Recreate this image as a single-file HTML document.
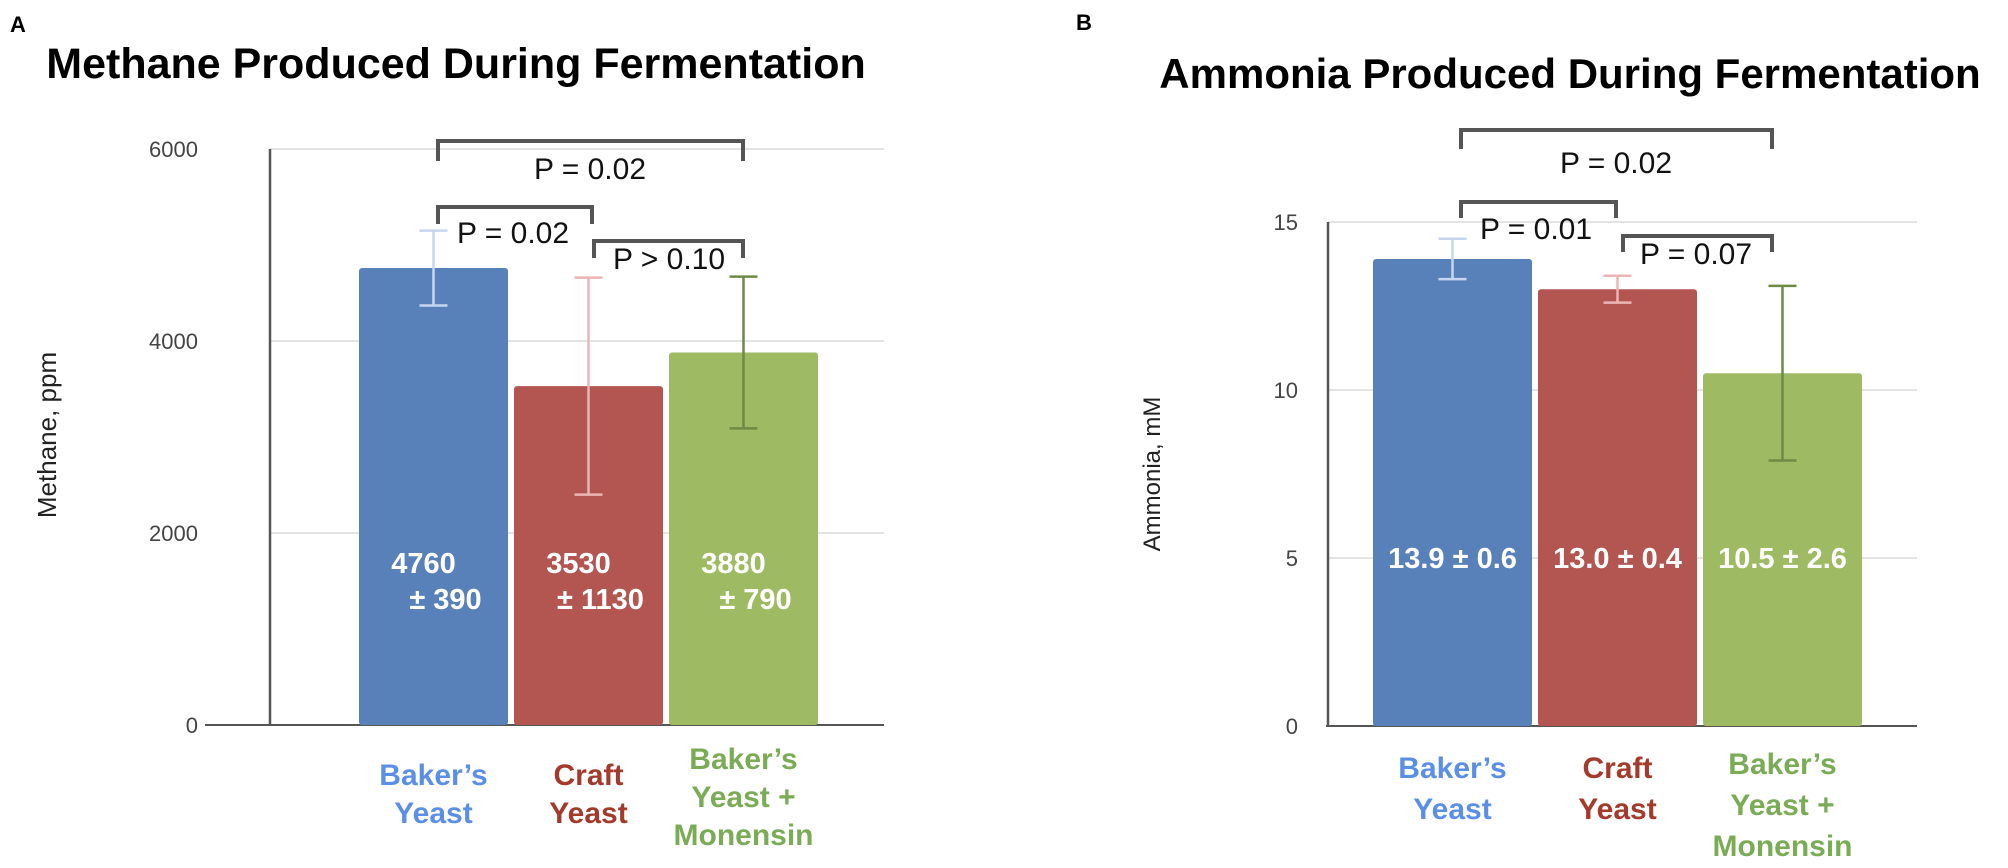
<!DOCTYPE html>
<html><head><meta charset="utf-8"><style>
html,body{margin:0;padding:0;background:#fff;}
svg{display:block;font-family:"Liberation Sans",Arial,sans-serif;}
</style></head><body>
<svg id="fig" width="2008" height="868" viewBox="0 0 2008 868">
<text x="10" y="32" font-size="22" font-weight="bold">A</text>
<text x="1076" y="30" font-size="22" font-weight="bold">B</text>
<text x="456" y="78" font-size="43" font-weight="bold" text-anchor="middle">Methane Produced During Fermentation</text>
<text x="1570" y="88" font-size="42" font-weight="bold" text-anchor="middle">Ammonia Produced During Fermentation</text>
<g id="chartA"></g>
<g id="chartB"></g>
</svg>
<script>
const catNames=["Baker's Yeast","Craft Yeast","Baker's Yeast + Monensin"];
const methaneVals=[4760,3530,3880];
const methaneErr=[390,1130,790];
const methaneTicks=[0,2000,4000,6000];
const methaneLabels=[["4760","± 390"],["3530","± 1130"],["3880","± 790"]];
const ammoniaVals=[13.9,13.0,10.5];
const ammoniaErr=[0.6,0.4,2.6];
const ammoniaTicks=[0,5,10,15];
const ammoniaLabels=[["13.9 ± 0.6"],["13.0 ± 0.4"],["10.5 ± 2.6"]];
const catLinesA=[["Baker’s","Yeast"],["Craft","Yeast"],["Baker’s","Yeast +","Monensin"]];
const catLinesB=[["Baker’s","Yeast"],["Craft","Yeast"],["Baker’s","Yeast +","Monensin"]];
const NS="http://www.w3.org/2000/svg";
const barCol=["#5880b9","#b35550","#9ebb63"];
const errCol=["#c7d6ef","#e9b6b4","#6f8a45"];
const catCol=["#5b8fe6","#a33a2c","#7aab55"];
function mk(p,t,a){const e=document.createElementNS(NS,t);for(const k in a)e.setAttribute(k,a[k]);p.appendChild(e);return e;}
function draw(g,cfg){
  const y=v=>cfg.y0-(v-cfg.min)/(cfg.max-cfg.min)*(cfg.y0-cfg.yTop);
  cfg.ticks.forEach((t,i)=>{
    if(t>0){const l=mk(g,'line',{x1:cfg.ax,x2:cfg.gridR,y1:y(t),y2:y(t),stroke:'#e3e3e3','stroke-width':2});
    
    }
    const tx=mk(g,'text',{x:cfg.tickX,y:y(t)+8,'font-size':22,fill:'#444','text-anchor':'end'});
    tx.textContent=t;
    
    
  });
  const ax=mk(g,'line',{x1:cfg.ax,x2:cfg.ax,y1:cfg.yTop,y2:cfg.y0,stroke:'#555','stroke-width':2.5});
  
  
  const bl=mk(g,'line',{x1:cfg.baseL,x2:cfg.gridR,y1:cfg.y0,y2:cfg.y0,stroke:'#555','stroke-width':2});
  
  
  const yt=mk(g,'text',{x:cfg.ytX,y:cfg.ytY,'font-size':cfg.ytSize,fill:'#222','text-anchor':'middle',transform:`rotate(-90 ${cfg.ytX} ${cfg.ytY})`});
  yt.textContent=cfg.yTitle;
  
  
  cfg.vals.forEach((v,i)=>{
    const x0=cfg.bx0+i*cfg.step, cx=x0+cfg.bw/2;
    const r=mk(g,'rect',{x:x0,y:y(v),width:cfg.bw,height:cfg.y0-y(v),fill:barCol[i],rx:3});
    
    
    const e=cfg.err[i], eg=mk(g,'g',{stroke:errCol[i],'stroke-width':2.5});
    
    
    mk(eg,'line',{x1:cx,x2:cx,y1:y(v+e),y2:y(v-e)});
    mk(eg,'line',{x1:cx-14,x2:cx+14,y1:y(v+e),y2:y(v+e)});
    mk(eg,'line',{x1:cx-14,x2:cx+14,y1:y(v-e),y2:y(v-e)});
    cfg.labels[i].forEach((s,j)=>{
      const t=mk(g,'text',{x:cx+(j?12:-10)*(cfg.labels[i].length>1?1:0),y:cfg.labY+j*36,'font-size':29,'font-weight':'bold',fill:'#fff','text-anchor':'middle'});
      t.textContent=s;
      
      
    });
    const lines=cfg.cats[i];
    lines.forEach((s,j)=>{
      const t=mk(g,'text',{x:cx,y:cfg.catY[lines.length]+j*cfg.catDy,'font-size':30,'font-weight':'bold',fill:catCol[i],'text-anchor':'middle'});
      t.textContent=s;
      
      
    });
  });
  cfg.brackets.forEach(b=>{
    const p=mk(g,'path',{d:`M${b[0]} ${b[3]} V${b[2]} H${b[1]} V${b[3]}`,fill:'none',stroke:'#555','stroke-width':4});
    
    
    const t=mk(g,'text',{x:b[4],y:b[5],'font-size':30,fill:'#111','text-anchor':b[7]||'middle'});
    t.textContent=b[6];
    
    
  });
}
draw(document.getElementById('chartA'),{min:0,max:6000,y0:725,yTop:149,ax:270,gridR:884,baseL:205,tickX:198,ticks:methaneTicks,
  vals:methaneVals,err:methaneErr,labels:methaneLabels,cats:catLinesA,bx0:359,bw:149,step:155,labY:573,
  catY:{2:785,3:769},catDy:38,yTitle:"Methane, ppm",ytX:56,ytY:435,ytSize:26,
  brackets:[[438,743,141,161,590,179,"P = 0.02"],[438,592,207,224,457,243,"P = 0.02","start"],[594,743,241,258,613,269,"P > 0.10","start"]]});
draw(document.getElementById('chartB'),{min:0,max:15,y0:726,yTop:222,ax:1328,gridR:1917,baseL:1326,tickX:1298,ticks:ammoniaTicks,
  vals:ammoniaVals,err:ammoniaErr,labels:ammoniaLabels,cats:catLinesB,bx0:1373,bw:159,step:165,labY:568,
  catY:{2:778,3:774},catDy:41,yTitle:"Ammonia, mM",ytX:1160,ytY:474,ytSize:24,
  brackets:[[1461,1772,130,149,1616,173,"P = 0.02"],[1461,1616,202,218,1480,239,"P = 0.01","start"],[1623,1772,236,252,1640,264,"P = 0.07","start"]]});
</script>
</body></html>
